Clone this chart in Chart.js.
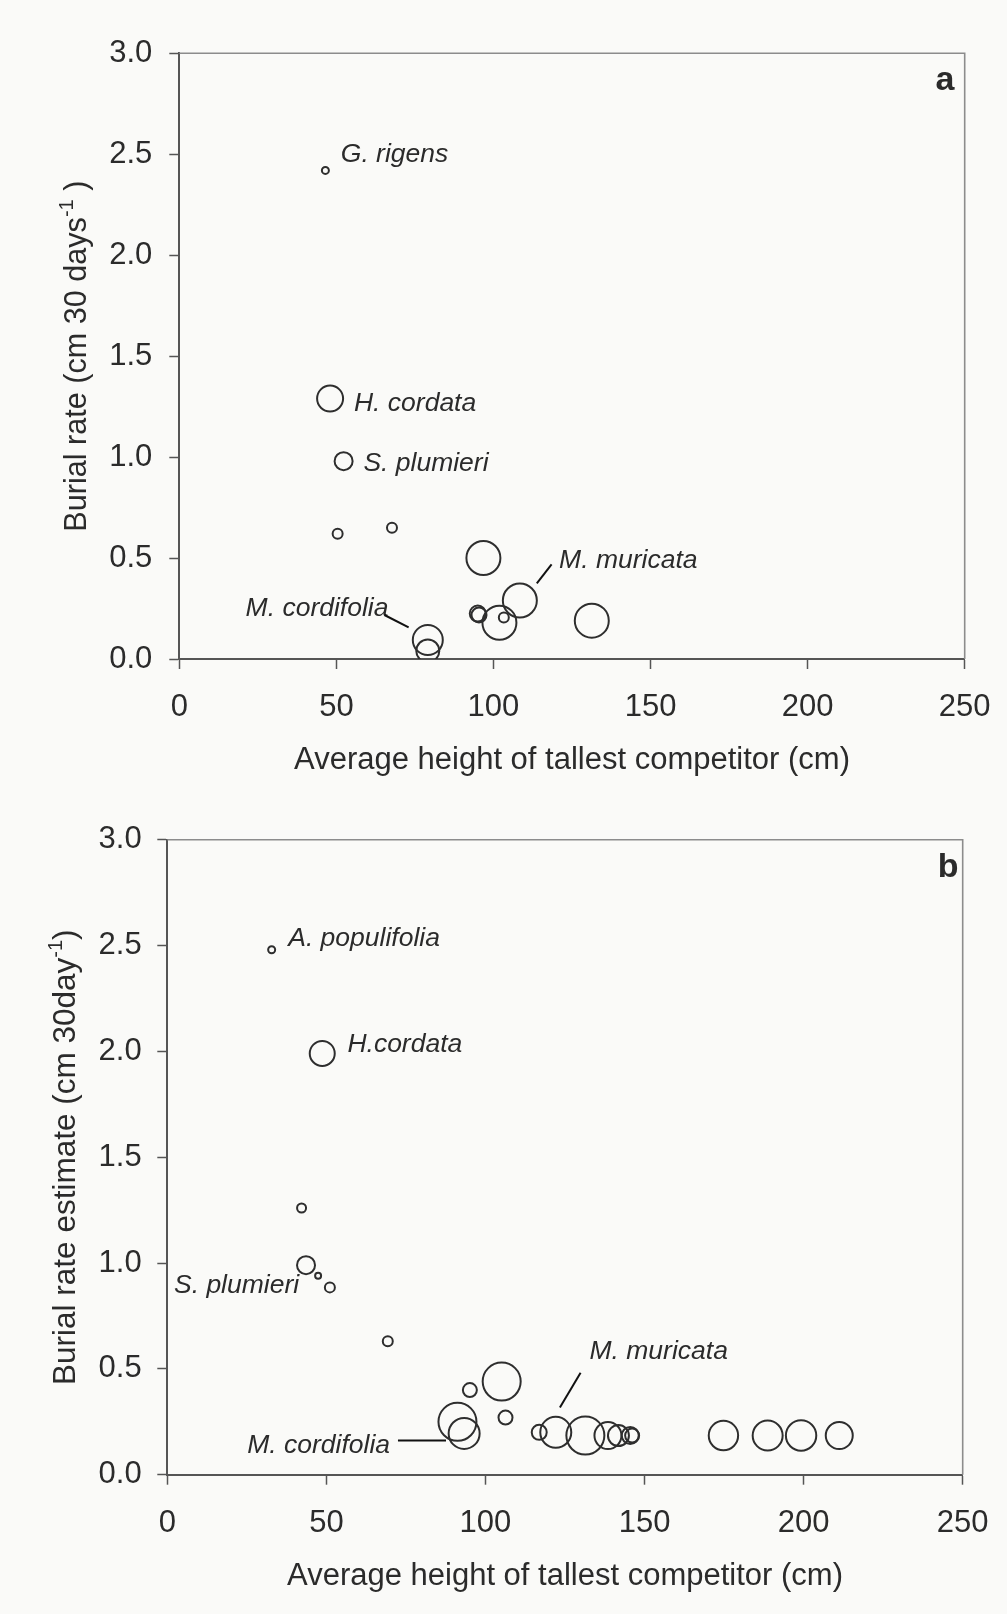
<!DOCTYPE html>
<html><head><meta charset="utf-8">
<script src="https://cdn.jsdelivr.net/npm/chart.js@4/dist/chart.umd.min.js"></script>
<style>
html,body{margin:0;padding:0;background:#fafaf8;}
#wrap{position:relative;width:1007px;height:1614px;background:#fafaf8;}
canvas{position:absolute;left:0;display:block;}
</style></head><body>
<div id="wrap">
<canvas id="ca" width="1007" height="790" style="top:0"></canvas>
<canvas id="cb" width="1007" height="824" style="top:790px"></canvas>
</div>
<script>
// ---- Panel a data ----
const aHeight = [46.5, 48.0, 52.3, 50.4, 67.7, 96.8, 108.4, 95.0, 95.4, 101.9, 103.3, 131.3, 79.1, 79.1];
const aBurial = [2.42, 1.29, 0.98, 0.62, 0.65, 0.50, 0.29, 0.225, 0.218, 0.18, 0.205, 0.19, 0.094, 0.04];
const aSize   = [3.5, 13, 9, 5, 5, 17, 17, 8, 7.5, 17, 5, 17, 15, 11.5];
// ---- Panel b data ----
const bHeight = [32.8, 48.7, 42.2, 43.6, 47.4, 51.1, 69.3, 95.1, 105.1, 106.3, 91.2, 93.3, 116.9, 122.1, 131.4, 138.5, 141.8, 145.5, 146.1, 174.8, 188.7, 199.2, 211.2];
const bBurial = [2.48, 1.99, 1.26, 0.99, 0.94, 0.885, 0.63, 0.40, 0.44, 0.27, 0.25, 0.195, 0.20, 0.20, 0.185, 0.185, 0.185, 0.185, 0.185, 0.185, 0.185, 0.185, 0.185];
const bSize   = [3.5, 12.5, 4.5, 9, 3, 5, 5, 7, 19, 7, 19, 15.5, 7.5, 15.5, 19, 13.5, 10.5, 8.5, 7, 14.7, 15, 15.2, 13.5];
// ---- Axes ----
const xTicks = [0, 50, 100, 150, 200, 250];
const yTicks = [0, 0.5, 1.0, 1.5, 2.0, 2.5, 3.0];
const xTitle = 'Average height of tallest competitor (cm)';
const aYTitle = ['Burial rate (cm 30 days', '-1', ' )'];
const bYTitle = ['Burial rate estimate (cm 30day', '-1', ')'];
// ---- Species labels ----
const aLabels = ['G. rigens', 'H. cordata', 'S. plumieri', 'M. muricata', 'M. cordifolia'];
const bLabels = ['A. populifolia', 'H.cordata', 'S. plumieri', 'M. muricata', 'M. cordifolia'];

// label anchor positions (data units, left edge / baseline)
const aLabelPos = [[51.4, 2.462], [55.6, 1.228], [58.6, 0.931], [120.9, 0.449], [21.1, 0.213]];
const bLabelPos = [[38.0, 2.498], [56.6, 1.997], [2.1, 0.858], [132.7, 0.547], [25.1, 0.101]];
const aLeaders = [[[65.3, 0.218], [73.0, 0.157]], [[118.5, 0.469], [113.8, 0.375]]];
const bLeaders = [[[72.5, 0.161], [87.6, 0.161]], [[129.9, 0.482], [123.4, 0.318]]];

const TXT = '#2b2b2b';
const FONT = "'Liberation Sans', Arial, Helvetica, sans-serif";

const decor = {
  id: 'decor',
  afterDraw(chart, args, o) {
    const {ctx, chartArea: ca, scales} = chart;
    const xs = scales.x, ys = scales.y;
    ctx.save();
    // top & right frame
    ctx.strokeStyle = '#8c8c8c';
    ctx.lineWidth = 1.6;
    ctx.beginPath();
    ctx.moveTo(ca.left, ca.top); ctx.lineTo(ca.right, ca.top); ctx.lineTo(ca.right, ca.bottom);
    ctx.stroke();
    // species labels
    ctx.fillStyle = TXT;
    ctx.font = 'italic 26.5px ' + FONT;
    ctx.textAlign = 'left';
    ctx.textBaseline = 'alphabetic';
    o.labels.forEach((t, i) => {
      ctx.fillText(t, xs.getPixelForValue(o.pos[i][0]), ys.getPixelForValue(o.pos[i][1]));
    });
    // leader lines
    ctx.strokeStyle = '#111';
    ctx.lineWidth = 2;
    o.leaders.forEach(l => {
      ctx.beginPath();
      ctx.moveTo(xs.getPixelForValue(l[0][0]), ys.getPixelForValue(l[0][1]));
      ctx.lineTo(xs.getPixelForValue(l[1][0]), ys.getPixelForValue(l[1][1]));
      ctx.stroke();
    });
    // panel letter
    ctx.font = 'bold 34px ' + FONT;
    ctx.textAlign = 'right';
    ctx.fillText(o.letter, o.letterX, o.letterY);
    // y title with superscript
    const fs = o.yfs, sfs = Math.round(o.yfs * 0.64);
    ctx.font = fs + 'px ' + FONT;
    const w0 = ctx.measureText(o.ytitle[0]).width;
    const w2 = ctx.measureText(o.ytitle[2]).width;
    ctx.font = sfs + 'px ' + FONT;
    const w1 = ctx.measureText(o.ytitle[1]).width;
    const total = w0 + w1 + w2;
    const cy = (ca.top + ca.bottom) / 2;
    ctx.translate(o.ytitleX, cy);
    ctx.rotate(-Math.PI / 2);
    ctx.textAlign = 'left';
    ctx.textBaseline = 'alphabetic';
    let x = -total / 2;
    ctx.font = fs + 'px ' + FONT;
    ctx.fillText(o.ytitle[0], x, 0); x += w0;
    ctx.font = sfs + 'px ' + FONT;
    ctx.fillText(o.ytitle[1], x, -13); x += w1;
    ctx.font = fs + 'px ' + FONT;
    ctx.fillText(o.ytitle[2], x, 0);
    ctx.restore();
  }
};

function makeChart(id, xsArr, ysArr, rsArr, geo, deco) {
  const pts = xsArr.map((v, i) => ({x: v, y: ysArr[i], r: rsArr[i]}));
  return new Chart(document.getElementById(id), {
    type: 'bubble',
    data: {datasets: [{
      data: pts,
      backgroundColor: 'rgba(0,0,0,0)',
      borderColor: '#2e2e2e',
      borderWidth: 2,
      hoverBorderWidth: 2,
      clip: 0
    }]},
    options: {
      responsive: false,
      animation: false,
      events: [],
      layout: {padding: {left: 0, top: geo.top, right: geo.right, bottom: 0}},
      plugins: {legend: {display: false}, tooltip: {enabled: false}, decor: deco},
      scales: {
        x: {
          type: 'linear', min: 0, max: 250,
          afterBuildTicks: s => { s.ticks = xTicks.map(v => ({value: v})); },
          afterFit: s => { s.height = geo.xh; s.paddingLeft = 0; s.paddingRight = 0; },
          border: {display: true, color: '#555', width: 2},
          grid: {display: true, drawOnChartArea: false, drawTicks: true, tickLength: 10, tickColor: '#555', tickWidth: 1.5},
          ticks: {color: TXT, font: {family: FONT, size: 31}, padding: 20, maxRotation: 0, autoSkip: false},
          title: {display: true, text: xTitle, color: TXT, font: {family: FONT, size: 31}, padding: {top: 0, bottom: geo.titlePad}}
        },
        y: {
          type: 'linear', min: 0, max: 3,
          afterBuildTicks: s => { s.ticks = yTicks.map(v => ({value: v})); },
          afterFit: s => { s.width = geo.yw; s.paddingTop = 0; s.paddingBottom = 0; },
          border: {display: true, color: '#555', width: 2},
          grid: {display: true, drawOnChartArea: false, drawTicks: true, tickLength: 10, tickColor: '#555', tickWidth: 1.5},
          ticks: {color: TXT, font: {family: FONT, size: 31}, padding: geo.ypad, callback: v => Number(v).toFixed(1), autoSkip: false}
        }
      }
    },
    plugins: [decor]
  });
}

makeChart('ca', aHeight, aBurial, aSize,
  {top: 53.3, right: 42.3, xh: 131, yw: 179.3, titlePad: 11, ypad: 17},
  {labels: aLabels, pos: aLabelPos, leaders: aLeaders, letter: 'a', letterX: 954.5, letterY: 89.6, ytitle: aYTitle, ytitleX: 86, yfs: 30.6});
makeChart('cb', bHeight, bBurial, bSize,
  {top: 49.7, right: 44.3, xh: 139.3, yw: 167.3, titlePad: 19, ypad: 15.6},
  {labels: bLabels, pos: bLabelPos, leaders: bLeaders, letter: 'b', letterX: 958.6, letterY: 87.3, ytitle: bYTitle, ytitleX: 75, yfs: 31.5});
</script>
</body></html>
